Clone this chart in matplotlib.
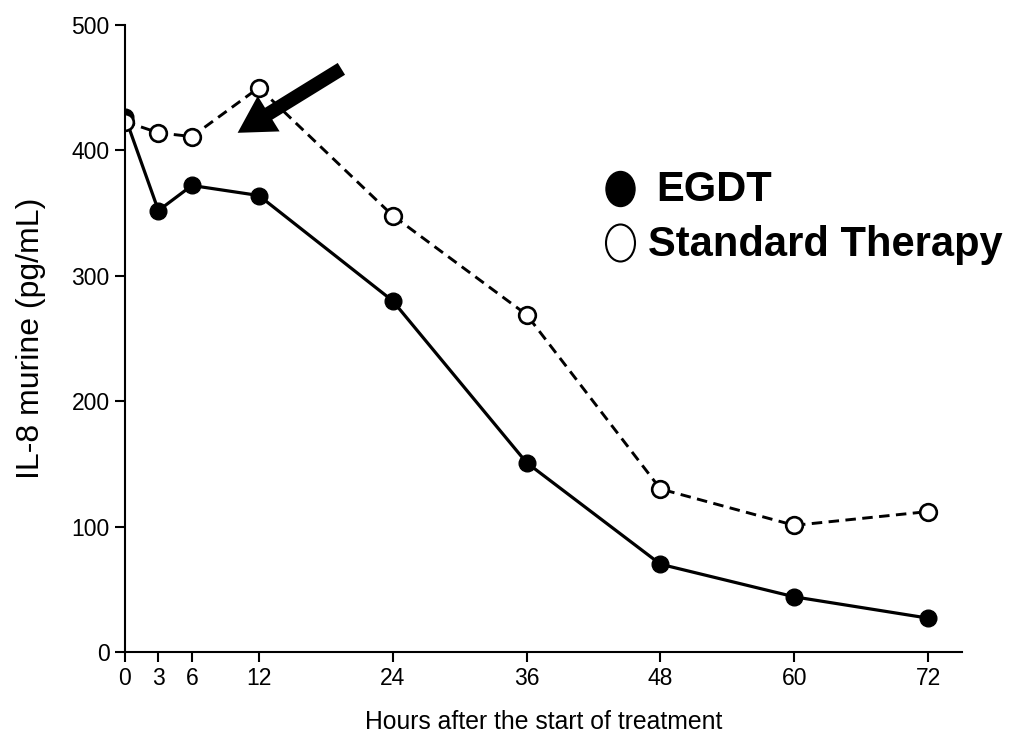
import matplotlib
matplotlib.use("Agg")
import matplotlib.pyplot as plt
from matplotlib.patches import Ellipse

plt.rcParams['font.family'] = ['Liberation Sans', 'DejaVu Sans']

hours = [0, 3, 6, 12, 24, 36, 48, 60, 72]
egdt = [427, 352, 372, 364, 280, 151, 70, 44, 27]
standard = [423, 414, 411, 450, 348, 269, 130, 101, 112]
xticks = [0, 3, 6, 12, 24, 36, 48, 60, 72]
yticks = [0, 100, 200, 300, 400, 500]

W, H = 1011, 734
fig = plt.figure(figsize=(W / 100, H / 100), dpi=100)
ax = fig.add_axes([0.1236, 0.1117, 0.8276, 0.8543])

ax.plot(hours, egdt, '-', color='black', lw=2.3, marker='o', ms=12,
        mfc='black', mec='black', zorder=3)
ax.plot(hours, standard, color='black', lw=2.1, dashes=(3.6, 2.2),
        marker='o', ms=12, mfc='white', mec='black', mew=1.9, zorder=4)

# arrow pointing at the 12 h point
ax.annotate('', xy=(10.1, 414), xytext=(19.4, 465),
            arrowprops=dict(arrowstyle='simple,head_length=1.05,head_width=1.2,tail_width=0.4',
                            mutation_scale=25, color='black', lw=0,
                            shrinkA=0, shrinkB=0))

ax.set_xlim(0, 75)
ax.set_ylim(0, 500)
ax.set_xticks(xticks)
ax.set_yticks(yticks)
ax.spines['top'].set_visible(False)
ax.spines['right'].set_visible(False)
ax.spines['left'].set_linewidth(1.5)
ax.spines['bottom'].set_linewidth(1.5)
ax.spines['left'].set_zorder(5)
ax.tick_params(direction='out', length=7.5, width=1.5, labelsize=16.5, pad=3.5)

ax.set_xlabel('Hours after the start of treatment', fontsize=17.8, labelpad=14)
ax.set_ylabel('IL-8 murine (pg/mL)', fontsize=23, labelpad=18)

# legend drawn by hand
fig.patches.append(Ellipse((620.5 / W, 1 - 189 / H), 29 / W, 35 / H,
                           transform=fig.transFigure, facecolor='black',
                           edgecolor='black'))
fig.patches.append(Ellipse((620.5 / W, 1 - 243 / H), 29 / W, 37 / H,
                           transform=fig.transFigure, facecolor='white',
                           edgecolor='black', lw=1.5))
fig.text(656 / W, 1 - 201 / H, 'EGDT', fontsize=30, fontweight='bold',
         ha='left', va='baseline')
fig.text(648 / W, 1 - 256 / H, 'Standard Therapy', fontsize=30,
         fontweight='bold', ha='left', va='baseline')

fig.savefig('out.png', dpi=100)
